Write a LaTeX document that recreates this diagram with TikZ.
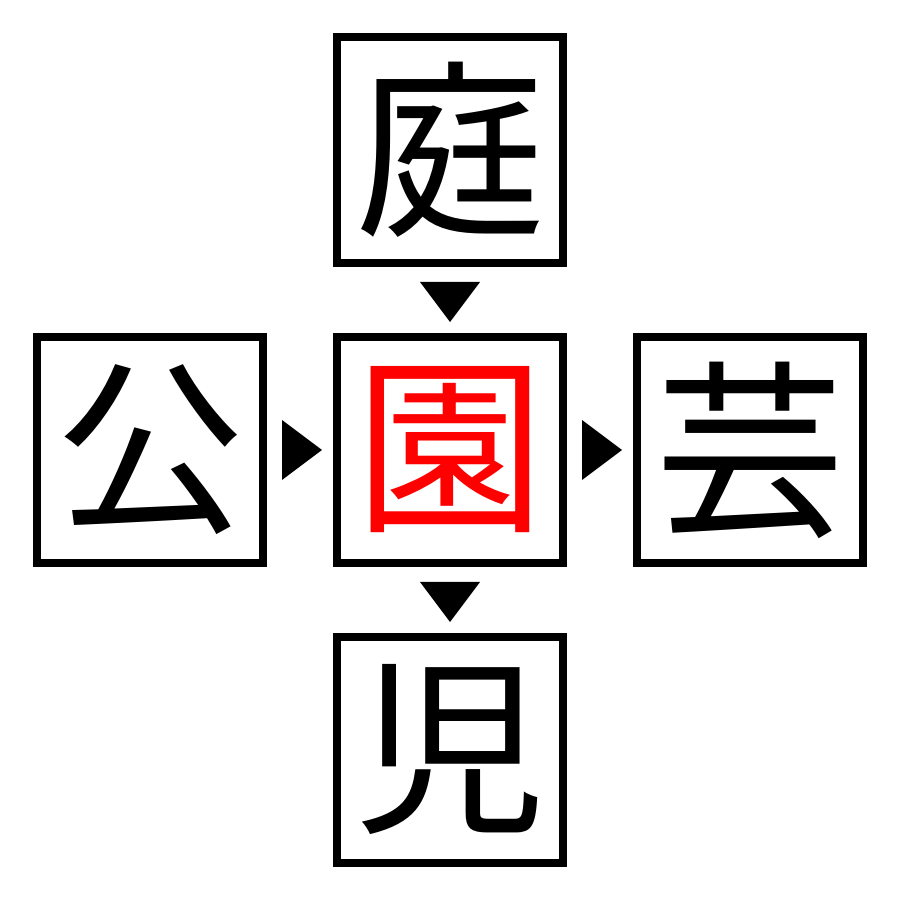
\documentclass[tikz,border=0pt]{standalone}
\usepackage{fontspec}
\newfontfamily\cjk{Noto Sans CJK JP}
\usetikzlibrary{calc}
\tikzset{kanji/.style={draw,line width=0.08cm,minimum size=2.26cm,inner sep=0pt,
    font=\cjk\fontsize{54}{54}\selectfont}}
\begin{document}
\begin{tikzpicture}
                \useasboundingbox (0,0) rectangle (9,9);
                \draw (4.5,7.5) node [kanji] (tei) {庭} ;
                \draw (1.5,4.5) node [kanji] (kou) {公} ;
                \draw (4.5,4.5) node [kanji,text=red] (en) {園} ;
                \draw (7.5,4.5) node [kanji] (gei) {芸} ;
                \draw (4.5,1.5) node [kanji] (ji) {児} ;
                % triangles between boxes
                \fill ($(tei.south)!.5!(en.north)$) +(-0.3,0.18) -- +(0.3,0.18) -- +(0,-0.22) -- cycle ;
                \fill ($(en.south)!.5!(ji.north)$) +(-0.3,0.18) -- +(0.3,0.18) -- +(0,-0.22) -- cycle ;
                \fill ($(kou.east)!.5!(en.west)$) +(-0.18,0.3) -- +(-0.18,-0.3) -- +(0.22,0) -- cycle ;
                \fill ($(en.east)!.5!(gei.west)$) +(-0.18,0.3) -- +(-0.18,-0.3) -- +(0.22,0) -- cycle ;
\end{tikzpicture}
\end{document}
